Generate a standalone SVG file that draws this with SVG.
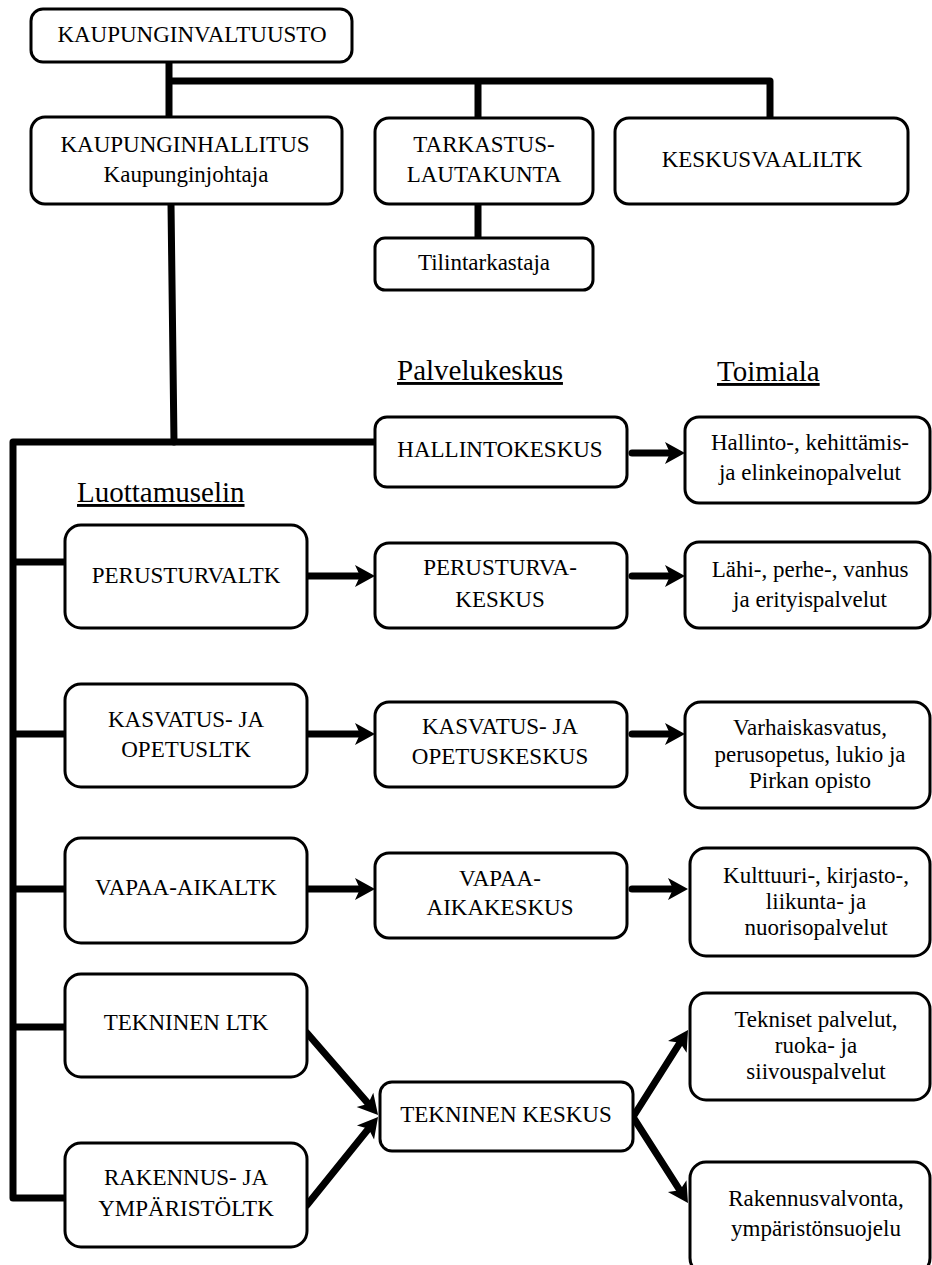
<svg xmlns="http://www.w3.org/2000/svg" width="932" height="1265" viewBox="0 0 932 1265">
<style>
.box{fill:#fff;stroke:#000;stroke-width:3}
.t{font-family:"Liberation Serif","Times New Roman",serif;font-size:23px;fill:#000;text-anchor:middle}
.h{font-family:"Liberation Serif","Times New Roman",serif;font-size:29px;fill:#000;text-decoration:underline}
.ln{fill:none;stroke:#000;stroke-width:7;stroke-linejoin:round;stroke-linecap:round}
.ar{fill:none;stroke:#000;stroke-width:7;stroke-linecap:round;marker-end:url(#ah)}
</style>
<defs>
<marker id="ah" markerUnits="userSpaceOnUse" markerWidth="20" markerHeight="22" refX="8" refY="11" orient="auto" overflow="visible">
<path d="M0,0 L20,11 L0,22 L5,11 z" fill="#000"/>
</marker>
</defs>
<rect width="932" height="1265" fill="#fff"/>
<g id="connectors">
<path class="ln" d="M169,62 V117 M169,81 H770 V118 M478,81 V118 M478,204 V238"/>
<path class="ln" d="M171,204 L174,442"/>
<path class="ln" d="M375,442 H13 V1198 H65 M13,562 H65 M13,734 H65 M13,889 H65 M13,1027 H65"/>
<path class="ar" d="M632,453 H673"/>
<path class="ar" d="M307,576 H363"/>
<path class="ar" d="M632,576 H673"/>
<path class="ar" d="M307,734 H363"/>
<path class="ar" d="M632,734 H673"/>
<path class="ar" d="M307,889 H363"/>
<path class="ar" d="M632,889 H676"/>
<path class="ar" d="M307,1033 L370.2,1105.9"/>
<path class="ar" d="M307,1205 L370.5,1126.3"/>
<path class="ar" d="M633,1117 L681.6,1040.1"/>
<path class="ar" d="M633,1117 L681.5,1192.9"/>
</g>
<g id="headers">
<text class="h" x="397" y="380">Palvelukeskus</text>
<text class="h" x="717" y="381">Toimiala</text>
<text class="h" x="77" y="502">Luottamuselin</text>
</g>
<g id="kaupunginvaltuusto"><rect class="box" x="31" y="9" width="321" height="53" rx="12"/><text class="t" x="192" y="42">KAUPUNGINVALTUUSTO</text></g>
<g id="kaupunginhallitus"><rect class="box" x="31" y="117" width="311" height="87" rx="14"/><text class="t" x="185" y="152">KAUPUNGINHALLITUS</text><text class="t" x="186" y="182">Kaupunginjohtaja</text></g>
<g id="tarkastuslautakunta"><rect class="box" x="375" y="118" width="218" height="86" rx="14"/><text class="t" x="484" y="152">TARKASTUS-</text><text class="t" x="484" y="182">LAUTAKUNTA</text></g>
<g id="keskusvaaliltk"><rect class="box" x="615" y="118" width="293" height="86" rx="14"/><text class="t" x="762" y="167">KESKUSVAALILTK</text></g>
<g id="tilintarkastaja"><rect class="box" x="375" y="238" width="218" height="52" rx="10"/><text class="t" x="484" y="270">Tilintarkastaja</text></g>
<g id="hallintokeskus"><rect class="box" x="375" y="417" width="252" height="70" rx="12"/><text class="t" x="500" y="457">HALLINTOKESKUS</text></g>
<g id="hallinto-toimiala"><rect class="box" x="685" y="417" width="245" height="86" rx="14"/><text class="t" x="810" y="450">Hallinto-, kehittämis-</text><text class="t" x="810" y="480">ja elinkeinopalvelut</text></g>
<g id="perusturvaltk"><rect class="box" x="65" y="525" width="242" height="103" rx="16"/><text class="t" x="186" y="583">PERUSTURVALTK</text></g>
<g id="perusturvakeskus"><rect class="box" x="375" y="543" width="252" height="85" rx="14"/><text class="t" x="500" y="575">PERUSTURVA-</text><text class="t" x="500" y="607">KESKUS</text></g>
<g id="lahipalvelut"><rect class="box" x="685" y="542" width="245" height="86" rx="14"/><text class="t" x="810" y="577">Lähi-, perhe-, vanhus</text><text class="t" x="810" y="607">ja erityispalvelut</text></g>
<g id="kasvatusltk"><rect class="box" x="65" y="684" width="242" height="103" rx="16"/><text class="t" x="186" y="727">KASVATUS- JA</text><text class="t" x="186" y="757">OPETUSLTK</text></g>
<g id="kasvatuskeskus"><rect class="box" x="375" y="702" width="252" height="85" rx="14"/><text class="t" x="500" y="734">KASVATUS- JA</text><text class="t" x="500" y="764">OPETUSKESKUS</text></g>
<g id="varhaiskasvatus"><rect class="box" x="685" y="702" width="245" height="106" rx="16"/><text class="t" x="810" y="735">Varhaiskasvatus,</text><text class="t" x="810" y="762">perusopetus, lukio ja</text><text class="t" x="810" y="788">Pirkan opisto</text></g>
<g id="vapaa-aikaltk"><rect class="box" x="65" y="838" width="242" height="105" rx="16"/><text class="t" x="186" y="895">VAPAA-AIKALTK</text></g>
<g id="vapaa-aikakeskus"><rect class="box" x="375" y="853" width="252" height="85" rx="14"/><text class="t" x="500" y="886">VAPAA-</text><text class="t" x="500" y="915">AIKAKESKUS</text></g>
<g id="kulttuuri"><rect class="box" x="690" y="848" width="240" height="108" rx="16"/><text class="t" x="816" y="883">Kulttuuri-, kirjasto-,</text><text class="t" x="816" y="909">liikunta- ja</text><text class="t" x="816" y="935">nuorisopalvelut</text></g>
<g id="tekninenltk"><rect class="box" x="65" y="974" width="242" height="103" rx="16"/><text class="t" x="186" y="1030">TEKNINEN LTK</text></g>
<g id="rakennusltk"><rect class="box" x="65" y="1143" width="242" height="104" rx="16"/><text class="t" x="186" y="1185">RAKENNUS- JA</text><text class="t" x="186" y="1216">YMPÄRISTÖLTK</text></g>
<g id="tekninenkeskus"><rect class="box" x="380" y="1082" width="253" height="69" rx="12"/><text class="t" x="506" y="1122">TEKNINEN KESKUS</text></g>
<g id="tekniset"><rect class="box" x="690" y="993" width="240" height="107" rx="16"/><text class="t" x="816" y="1027">Tekniset palvelut,</text><text class="t" x="816" y="1053">ruoka- ja</text><text class="t" x="816" y="1079">siivouspalvelut</text></g>
<g id="rakennusvalvonta"><rect class="box" x="690" y="1162" width="240" height="112" rx="16"/><text class="t" x="816" y="1206">Rakennusvalvonta,</text><text class="t" x="816" y="1236">ympäristönsuojelu</text></g>
</svg>
